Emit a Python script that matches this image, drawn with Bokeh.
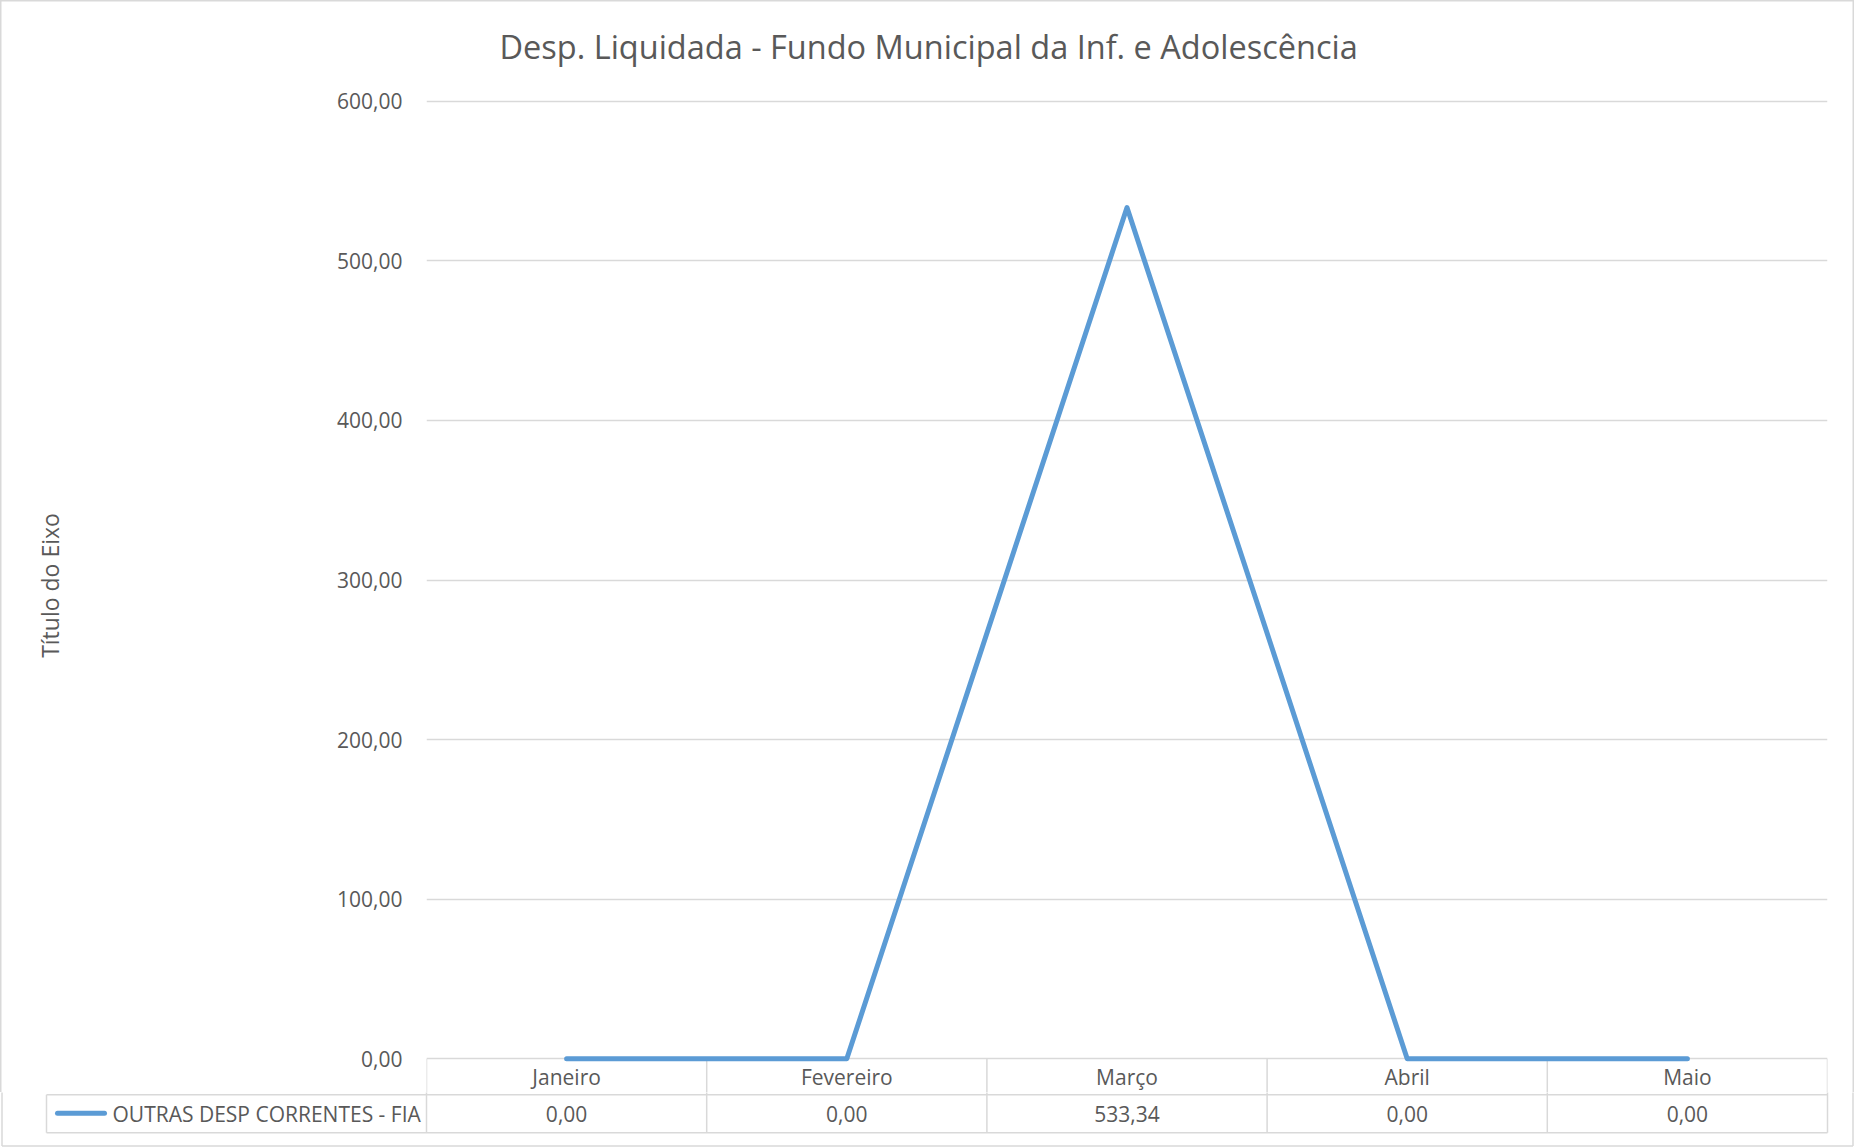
from bokeh.plotting import figure
from bokeh.models import Range1d, FactorRange, FixedTicker, Title
from bokeh.core.properties import value
from bokeh.embed import file_html
from bokeh.resources import INLINE

# ---------------- data ----------------
months = ["Janeiro", "Fevereiro", "Março", "Abril", "Maio"]
series_name = "OUTRAS DESP CORRENTES - FIA"
values = [0.00, 0.00, 533.34, 0.00, 0.00]
y_ticks = [0, 100, 200, 300, 400, 500, 600]
title_text = "Desp. Liquidada - Fundo Municipal da Inf. e Adolescência"
y_title_text = "Título do Eixo"


def fmt(v):
    return f"{v:,.2f}".replace(",", "X").replace(".", ",").replace("X", ".")


# ---------------- layout (page px) ----------------
W, H = 1854, 1147
PLOT_L, PLOT_R = 426, 27          # plot area left edge / right margin
A_TOP = 78                        # top of the chart frame
TOP_Y, ZERO_Y = 100.7, 1058.3     # page y of the top tick and of 0
SPLIT = 1092                      # chart figure / table figure boundary
HDR_PX, VAL_PX = 36, 38           # table rows (below the 0 line)
LEG_L = 46                        # left edge of the legend cell
n = len(months)
CAT_W = (W - PLOT_L - PLOT_R) / n
UNIT_PX = (ZERO_Y - TOP_Y) / y_ticks[-1]

TXT = "#595959"
GRID = "#d9d9d9"
BLUE = "#5b9bd5"
FONT = "Open Sans"
FS = "21px"

# ---------------- chart figure ----------------
a = figure(width=W, height=SPLIT, x_range=FactorRange(*months),
           y_range=Range1d(-(SPLIT - ZERO_Y) / UNIT_PX,
                           y_ticks[-1] + (TOP_Y - A_TOP) / UNIT_PX),
           output_backend="svg", toolbar_location=None, x_axis_location=None,
           min_border_left=PLOT_L, min_border_right=PLOT_R,
           min_border_top=A_TOP, min_border_bottom=0,
           styles={"box-shadow": "inset 1.5px 1.5px 0 0 #d9d9d9, inset -1.5px 0 0 0 #d9d9d9"})
a.outline_line_color = None
a.background_fill_color = None
a.border_fill_color = None

yax = a.yaxis[0]
yax.ticker = FixedTicker(ticks=y_ticks)
yax.major_label_overrides = {t: fmt(t) for t in y_ticks}
yax.axis_line_color = None
yax.major_tick_line_color = None
yax.minor_tick_line_color = None
yax.major_tick_out = 0
yax.major_tick_in = 0
yax.major_label_standoff = 24
yax.major_label_text_font = FONT
yax.major_label_text_font_size = FS
yax.major_label_text_color = TXT
yax.axis_label = y_title_text
yax.axis_label_text_font = FONT
yax.axis_label_text_font_size = "23px"
yax.axis_label_text_font_style = "normal"
yax.axis_label_text_color = TXT
yax.axis_label_standoff = 268

a.xgrid.visible = False
a.ygrid.grid_line_color = GRID
a.ygrid.grid_line_width = 1.5

a.add_layout(Title(text=title_text, align="left", offset=499 - PLOT_L, standoff=19,
                   text_font=FONT, text_font_size="32.5px", text_font_style="normal",
                   text_color=TXT, vertical_align="bottom"), "above")

y_a_bot = -(SPLIT - ZERO_Y) / UNIT_PX
xs = list(range(n + 1))
a.segment(x0=xs, x1=xs, y0=[0] * (n + 1), y1=[y_a_bot] * (n + 1),
          line_color=GRID, line_width=1.5)

a.line(x=months, y=values, line_color=BLUE, line_width=5,
       line_cap="round", line_join="round")

a.text(x=months, y=[-(HDR_PX / 2) / UNIT_PX] * n, text=months, text_align="center",
       text_baseline="middle", text_font=value(FONT),
       text_font_size=value(FS), text_color=TXT)

# ---------------- table figure (value row + legend) ----------------
# x: category index units (0 at the plot's left edge), y: px below the 0 line
b = figure(width=W, height=H - SPLIT,
           x_range=Range1d(-PLOT_L / CAT_W, n + PLOT_R / CAT_W),
           y_range=Range1d(H - ZERO_Y, SPLIT - ZERO_Y),
           output_backend="svg", toolbar_location=None,
           x_axis_location=None, y_axis_location=None,
           min_border_left=0, min_border_right=0,
           min_border_top=0, min_border_bottom=0)
b.outline_line_color = None
b.background_fill_color = "white"
b.border_fill_color = "white"
for g in b.grid:
    g.visible = False

leg_x = -(PLOT_L - LEG_L) / CAT_W
b.segment(x0=xs, x1=xs, y0=[0] * (n + 1), y1=[HDR_PX + VAL_PX] * (n + 1),
          line_color=GRID, line_width=1.5)
b.segment(x0=[leg_x, leg_x, leg_x], x1=[leg_x, n, n],
          y0=[HDR_PX, HDR_PX, HDR_PX + VAL_PX],
          y1=[HDR_PX + VAL_PX, HDR_PX, HDR_PX + VAL_PX],
          line_color=GRID, line_width=1.5)

centers = [i + 0.5 for i in range(n)]
b.text(x=centers, y=[HDR_PX + VAL_PX / 2] * n, text=[fmt(v) for v in values],
       text_align="center", text_baseline="middle", text_font=value(FONT),
       text_font_size=value(FS), text_color=TXT)

sw_y = HDR_PX + VAL_PX / 2 - 0.6
b.segment(x0=[(57 - PLOT_L) / CAT_W], x1=[(104 - PLOT_L) / CAT_W], y0=[sw_y], y1=[sw_y],
          line_color=BLUE, line_width=5, line_cap="round")
b.text(x=[(112 - PLOT_L) / CAT_W], y=[HDR_PX + VAL_PX / 2], text=[series_name],
       text_align="left", text_baseline="middle", text_font=value(FONT),
       text_font_size=value(FS), text_color=TXT)

# outer chart border (lower part)
bx0, bx1 = (1.5 - PLOT_L) / CAT_W, (W - 1.5 - PLOT_L) / CAT_W
by_bot = H - 1.5 - ZERO_Y
b.segment(x0=[bx0, bx1, bx0], x1=[bx0, bx1, bx1],
          y0=[0, 0, by_bot], y1=[by_bot, by_bot, by_bot],
          line_color=GRID, line_width=1.5)

open("out.html", "w").write(file_html([a, b], INLINE))
